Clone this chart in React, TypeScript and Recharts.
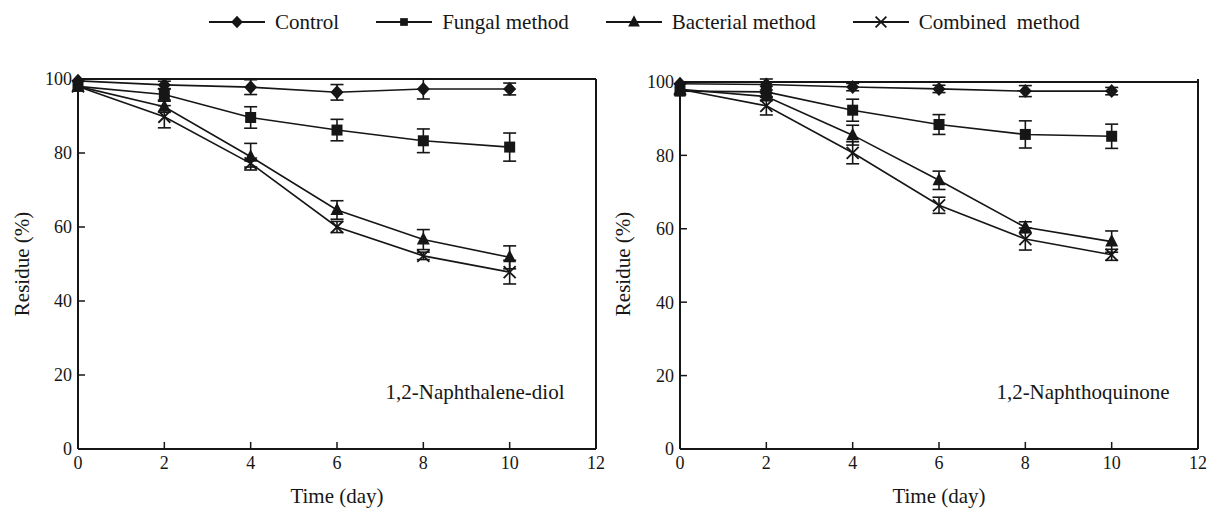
import React from 'react';
import { LineChart, Line, XAxis, YAxis, ErrorBar, ReferenceLine } from 'recharts';

// time points (day) and axis ticks
const DAYS = [0, 2, 4, 6, 8, 10];
const X_TICKS = [0, 2, 4, 6, 8, 10, 12];
const Y_TICKS = [0, 20, 40, 60, 80, 100];

// 1,2-Naphthalene-diol residue (%)
const DIOL_CONTROL = [99.5, 98.4, 97.8, 96.4, 97.3, 97.3];
const DIOL_CONTROL_ERR = [null, 1, 2, 2.1, 2.7, 1.6];
const DIOL_FUNGAL = [98, 95.8, 89.6, 86.2, 83.3, 81.6];
const DIOL_FUNGAL_ERR = [null, 1.5, 2.9, 2.9, 3.2, 3.8];
const DIOL_BACTERIAL = [98, 92.5, 79, 64.6, 56.6, 51.8];
const DIOL_BACTERIAL_ERR = [null, 1.5, 3.6, 2.5, 2.7, 3.1];
const DIOL_COMBINED = [98, 89.8, 77.2, 60, 52.2, 47.8];
const DIOL_COMBINED_ERR = [null, 3, 1, 1.5, 1, 3.2];

// 1,2-Naphthoquinone residue (%)
const QUIN_CONTROL = [99.5, 99.3, 98.6, 98.1, 97.5, 97.5];
const QUIN_CONTROL_ERR = [null, 1.5, 1, 1, 1.5, 1];
const QUIN_FUNGAL = [97.5, 97.3, 92.3, 88.4, 85.7, 85.2];
const QUIN_FUNGAL_ERR = [null, 1.5, 3, 2.7, 3.7, 3.3];
const QUIN_BACTERIAL = [98, 96, 85.5, 73.2, 60.4, 56.5];
const QUIN_BACTERIAL_ERR = [null, 1, 2.7, 2.5, 1.5, 2.9];
const QUIN_COMBINED = [98, 93.5, 80.7, 66.4, 57.2, 52.9];
const QUIN_COMBINED_ERR = [null, 2.5, 3, 2.2, 3, 1.5];

type Shape = 'diamond' | 'square' | 'triangle' | 'cross';

const SERIES: { key: string; name: string; shape: Shape }[] = [
  { key: 'control',   name: 'Control',          shape: 'diamond' },
  { key: 'fungal',    name: 'Fungal method',    shape: 'square' },
  { key: 'bacterial', name: 'Bacterial method', shape: 'triangle' },
  { key: 'combined',  name: 'Combined  method', shape: 'cross' },
];

const INK = '#161616';
const SERIF = '"Liberation Serif", "Times New Roman", serif';

const buildRows = (c: number[], ce: any[], f: number[], fe: any[], b: number[], be: any[], x: number[], xe: any[]) =>
  DAYS.map((day, i) => ({
    day,
    control: c[i], controlErr: ce[i],
    fungal: f[i], fungalErr: fe[i],
    bacterial: b[i], bacterialErr: be[i],
    combined: x[i], combinedErr: xe[i],
  }));

const DIOL_ROWS = buildRows(DIOL_CONTROL, DIOL_CONTROL_ERR, DIOL_FUNGAL, DIOL_FUNGAL_ERR,
  DIOL_BACTERIAL, DIOL_BACTERIAL_ERR, DIOL_COMBINED, DIOL_COMBINED_ERR);
const QUIN_ROWS = buildRows(QUIN_CONTROL, QUIN_CONTROL_ERR, QUIN_FUNGAL, QUIN_FUNGAL_ERR,
  QUIN_BACTERIAL, QUIN_BACTERIAL_ERR, QUIN_COMBINED, QUIN_COMBINED_ERR);

function Marker({ shape, cx, cy, s = 1 }: { shape: Shape; cx: number; cy: number; s?: number }) {
  if (cx == null || cy == null) return null;
  switch (shape) {
    case 'diamond':
      return <polygon points={`${cx},${cy - 7 * s} ${cx + 6.5 * s},${cy} ${cx},${cy + 7 * s} ${cx - 6.5 * s},${cy}`} fill={INK} />;
    case 'square':
      return <rect x={cx - 5.5 * s} y={cy - 5.5 * s} width={11 * s} height={11 * s} fill={INK} />;
    case 'triangle':
      return <polygon points={`${cx},${cy - 7.5 * s} ${cx + 6.5 * s},${cy + 5 * s} ${cx - 6.5 * s},${cy + 5 * s}`} fill={INK} />;
    default:
      return (
        <g stroke={INK} strokeWidth={1.8}>
          <line x1={cx - 6 * s} y1={cy - 6 * s} x2={cx + 6 * s} y2={cy + 6 * s} />
          <line x1={cx - 6 * s} y1={cy + 6 * s} x2={cx + 6 * s} y2={cy - 6 * s} />
        </g>
      );
  }
}

function Panel({ rows, left, width, yWidth, labelOffset, title, titleX }: {
  rows: any[]; left: number; width: number; yWidth: number; labelOffset: number; title: string; titleX: number;
}) {
  const tickStyle = { fill: INK, fontSize: 18, fontFamily: SERIF };
  return (
    <div style={{ position: 'absolute', left, top: 40 }}>
      <LineChart width={width} height={468} data={rows} margin={{ top: 39, right: width - yWidth - 518, left: 0, bottom: 0 }}
        style={{ fontFamily: SERIF }}>
        <XAxis dataKey="day" type="number" domain={[0, 12]} ticks={X_TICKS} height={59}
          axisLine={{ stroke: INK, strokeWidth: 2 }} tickLine={{ stroke: INK, strokeWidth: 1.5 }}
          tickSize={-7} tickMargin={14} tick={tickStyle}
          label={{ value: 'Time (day)', position: 'insideBottom', offset: 5, fill: INK, fontSize: 21, fontFamily: SERIF }} />
        <YAxis type="number" domain={[0, 100]} ticks={Y_TICKS} width={yWidth}
          axisLine={{ stroke: INK, strokeWidth: 2 }} tickLine={{ stroke: INK, strokeWidth: 1.5 }}
          tickSize={-7} tickMargin={13} tick={tickStyle}
          label={{ value: 'Residue (%)', angle: -90, position: 'insideLeft', offset: labelOffset, fill: INK, fontSize: 21, fontFamily: SERIF, style: { textAnchor: 'middle' } }} />
        <ReferenceLine y={100} stroke={INK} strokeWidth={2} />
        <ReferenceLine x={12} stroke={INK} strokeWidth={2} />
        {SERIES.map(s => (
          <Line key={s.key} dataKey={s.key} name={s.name} type="linear" stroke={INK} strokeWidth={1.6}
            isAnimationActive={false} activeDot={false}
            dot={(p: any) => <Marker key={`${s.key}-${p.index}`} shape={s.shape} cx={p.cx} cy={p.cy} />}>
            <ErrorBar dataKey={`${s.key}Err`} width={6.5} stroke={INK} strokeWidth={1.6} direction="y" isAnimationActive={false} />
          </Line>
        ))}
      </LineChart>
      <div style={{ position: 'absolute', left: titleX - left - 120, width: 240, top: 339, textAlign: 'center', fontSize: 21, color: INK, lineHeight: '26px' }}>
        {title}
      </div>
    </div>
  );
}

function LegendBar() {
  return (
    <div style={{ position: 'absolute', left: 209, top: 8, height: 28, display: 'flex', alignItems: 'center', gap: 37 }}>
      {SERIES.map(s => (
        <div key={s.key} style={{ display: 'flex', alignItems: 'center', gap: 10 }}>
          <svg width={56} height={20}>
            <line x1={0} y1={10} x2={56} y2={10} stroke={INK} strokeWidth={1.8} />
            <Marker shape={s.shape} cx={28} cy={10} s={s.shape === 'square' ? 0.7 : 0.9} />
          </svg>
          <span style={{ fontSize: 21, color: INK, whiteSpace: 'pre' }}>{s.name}</span>
        </div>
      ))}
    </div>
  );
}

export default function App() {
  return (
    <div style={{ position: 'fixed', left: 0, top: 0, width: 1208, height: 508, background: '#fff', fontFamily: SERIF, overflow: 'hidden' }}>
      <LegendBar />
      <Panel rows={DIOL_ROWS} left={0} width={610} yWidth={78} labelOffset={22} title="1,2-Naphthalene-diol" titleX={475} />
      <Panel rows={QUIN_ROWS} left={600} width={608} yWidth={80} labelOffset={23} title="1,2-Naphthoquinone" titleX={1083} />
    </div>
  );
}
